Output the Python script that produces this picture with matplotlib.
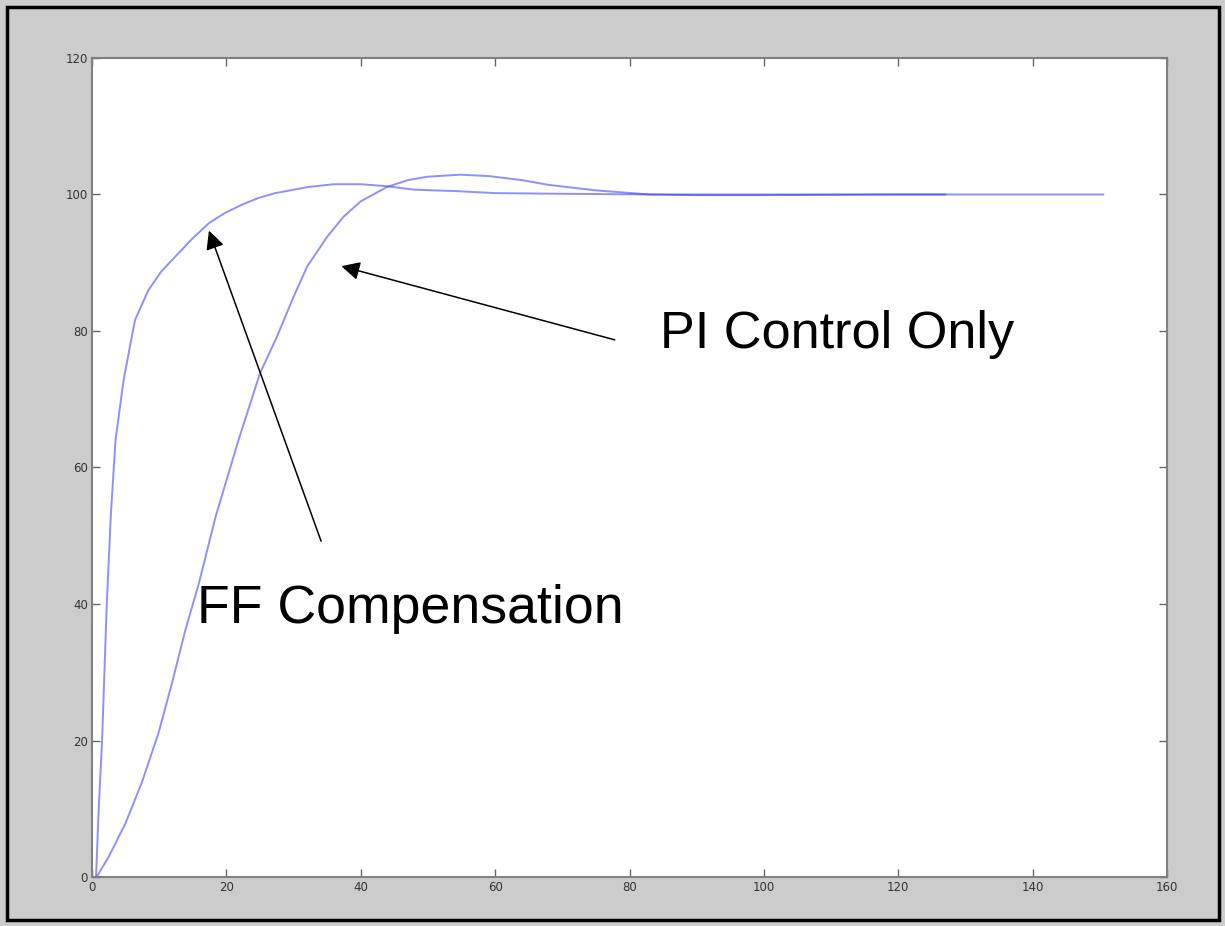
import matplotlib.pyplot as plt
from matplotlib.patches import Rectangle

# step responses
ff_t = [0.6, 1.0, 1.5, 2.2, 2.8, 3.5, 4.7, 6.4, 8.4, 10.3, 12.4, 14.9, 17.4, 19.8,
        22.3, 24.8, 27.3, 32.2, 36, 40, 44, 48, 54, 60, 70, 83, 100, 127]
ff_y = [0, 10, 20, 40, 53, 64, 72.8, 81.6, 86, 88.7, 90.9, 93.5, 95.8, 97.3,
        98.5, 99.5, 100.2, 101.1, 101.5, 101.5, 101.2, 100.7, 100.5, 100.2, 100.1, 100, 100, 100]

pi_t = [0.7, 2.5, 5, 7.4, 9.9, 11.9, 13.9, 15.9, 18.4, 21.8, 25, 27.5, 30, 32, 35,
        37.4, 40, 43.9, 47, 49.9, 54.8, 59, 64, 68, 75, 83, 90, 100, 120, 150.5]
pi_y = [0, 3, 7.9, 13.8, 21.1, 28.4, 36.2, 43, 52.8, 64, 73.8, 79.1, 85, 89.4, 93.8,
        96.7, 99, 101.1, 102.1, 102.6, 102.9, 102.7, 102.1, 101.4, 100.6, 100, 99.9, 99.9, 100, 100]

xticks = [0, 20, 40, 60, 80, 100, 120, 140, 160]
yticks = [0, 20, 40, 60, 80, 100, 120]

fig = plt.figure(figsize=(12.25, 9.26), dpi=100, facecolor="#cccccc")
ax = fig.add_axes([0.0751, 0.0529, 0.8776, 0.8845])

ax.plot(ff_t, ff_y, color="#3333ff", alpha=0.55, lw=1.4)
ax.plot(pi_t, pi_y, color="#3333ff", alpha=0.55, lw=1.4)

ax.set_xlim(0, 160)
ax.set_ylim(0, 120)
ax.set_xticks(xticks)
ax.set_yticks(yticks)
ax.tick_params(direction="in", length=6, width=1, color="#666666",
               labelsize=8.5, labelcolor="#333333", top=True, right=True, pad=3)
for s in ax.spines.values():
    s.set_color("#808080")
    s.set_linewidth(1.5)

arrow = dict(arrowstyle="-|>", color="black", lw=1.1, mutation_scale=28,
             shrinkA=0, shrinkB=0)
ax.annotate("", xy=(17.4, 94.7), xytext=(34.1, 49.2), arrowprops=arrow)
ax.annotate("", xy=(37.1, 89.5), xytext=(77.8, 78.7), arrowprops=arrow)

ax.text(15.6, 37.2, "FF Compensation", fontsize=38.6, family="Liberation Sans",
        va="baseline", ha="left")
ax.text(84.5, 77.5, "PI Control Only", fontsize=37.6, family="Liberation Sans",
        va="baseline", ha="left")

# black frame round the whole picture
fig.patches.append(Rectangle((6.5 / 1225, 6.5 / 926), 1 - 13 / 1225, 1 - 13 / 926,
                             transform=fig.transFigure, fill=False,
                             edgecolor="black", lw=2.5))

fig.savefig("out.png", dpi=100, facecolor=fig.get_facecolor())
